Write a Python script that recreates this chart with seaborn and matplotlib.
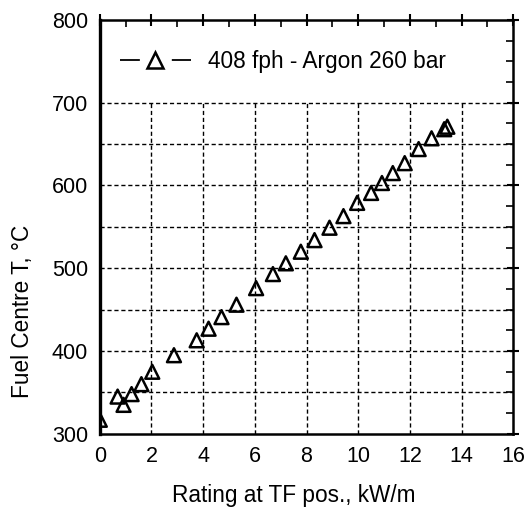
import matplotlib
matplotlib.use("Agg")
import matplotlib.pyplot as plt
from matplotlib.lines import Line2D
from matplotlib.ticker import MultipleLocator
import seaborn as sns
import pandas as pd

rating = [0, 0.69, 0.92, 1.23, 1.61, 2.03, 2.87, 3.75, 4.21, 4.71, 5.29, 6.05, 6.7,
          7.2, 7.78, 8.31, 8.89, 9.43, 9.96, 10.5, 10.92, 11.34, 11.8, 12.34, 12.84,
          13.33, 13.45]
temp = [317, 345, 335, 348, 360, 375, 395, 413, 427, 441, 456, 476, 493, 506, 520,
        534, 549, 563, 579, 591, 603, 615, 627, 644, 657, 668, 671]
series_label = "408 fph - Argon 260 bar"
x_label = "Rating at TF pos., kW/m"
y_label = "Fuel Centre T, °C"
grid_x = [2, 4, 6, 8, 10, 12, 14]
grid_y = [350, 400, 450, 500, 550, 600, 650, 700]

df = pd.DataFrame({"rating": rating, "temp": temp})

sns.set_style("white")
plt.rcParams["font.family"] = ["Liberation Sans", "DejaVu Sans"]
plt.rcParams["text.color"] = "black"
plt.rcParams["axes.labelcolor"] = "black"
plt.rcParams["xtick.color"] = "black"
plt.rcParams["ytick.color"] = "black"

fig = plt.figure(figsize=(5.28, 5.11), dpi=100)
ax = fig.add_axes([0.189, 0.151, 0.783, 0.810])

ax.hlines(grid_y, 0, 16, colors="black", linestyles=(0, (3, 2)), linewidth=1.0, zorder=1)
ax.vlines(grid_x, 300, 700, colors="black", linestyles=(0, (3, 2)), linewidth=1.0, zorder=1)

sns.scatterplot(data=df, x="rating", y="temp", marker="^", s=100,
                facecolor="none", edgecolor="black", linewidth=1.8, ax=ax, zorder=3,
                legend=False)

ax.set_xlim(0, 16)
ax.set_ylim(300, 800)
ax.xaxis.set_major_locator(MultipleLocator(2))
ax.xaxis.set_minor_locator(MultipleLocator(1))
ax.yaxis.set_major_locator(MultipleLocator(100))
ax.yaxis.set_minor_locator(MultipleLocator(25))
ax.tick_params(which="major", direction="inout", length=9, width=1.5,
               top=True, right=True, labelsize=15.5, pad=4, colors="black")
ax.tick_params(which="major", axis="x", pad=4)
ax.tick_params(which="minor", direction="in", length=5, width=1.2,
               top=True, right=True, colors="black")
for s in ax.spines.values():
    s.set_linewidth(1.8)
    s.set_color("black")
ax.spines["left"].set_linewidth(2.4)

ax.set_xlabel(x_label, fontsize=16.3, color="black")
ax.set_ylabel(y_label, fontsize=16.3, color="black")
ax.xaxis.set_label_coords(0.47, -0.15)
ax.yaxis.set_label_coords(-0.186, 0.297)
ax.xaxis.label.set_va("center")
ax.yaxis.label.set_va("center")

handle = Line2D([], [], color="black", linewidth=1.3, linestyle=(0, (11, 17.7)),
                marker="^", markersize=11, markerfacecolor="none", markeredgewidth=1.8)
leg = ax.legend([handle], [series_label], loc="center left", bbox_to_anchor=(0.048, 0.9),
                frameon=False, fontsize=16.3, handlelength=3.15, handletextpad=0.75,
                borderpad=0, borderaxespad=0)
for t in leg.get_texts():
    t.set_color("black")

fig.savefig("out.png", dpi=100)
